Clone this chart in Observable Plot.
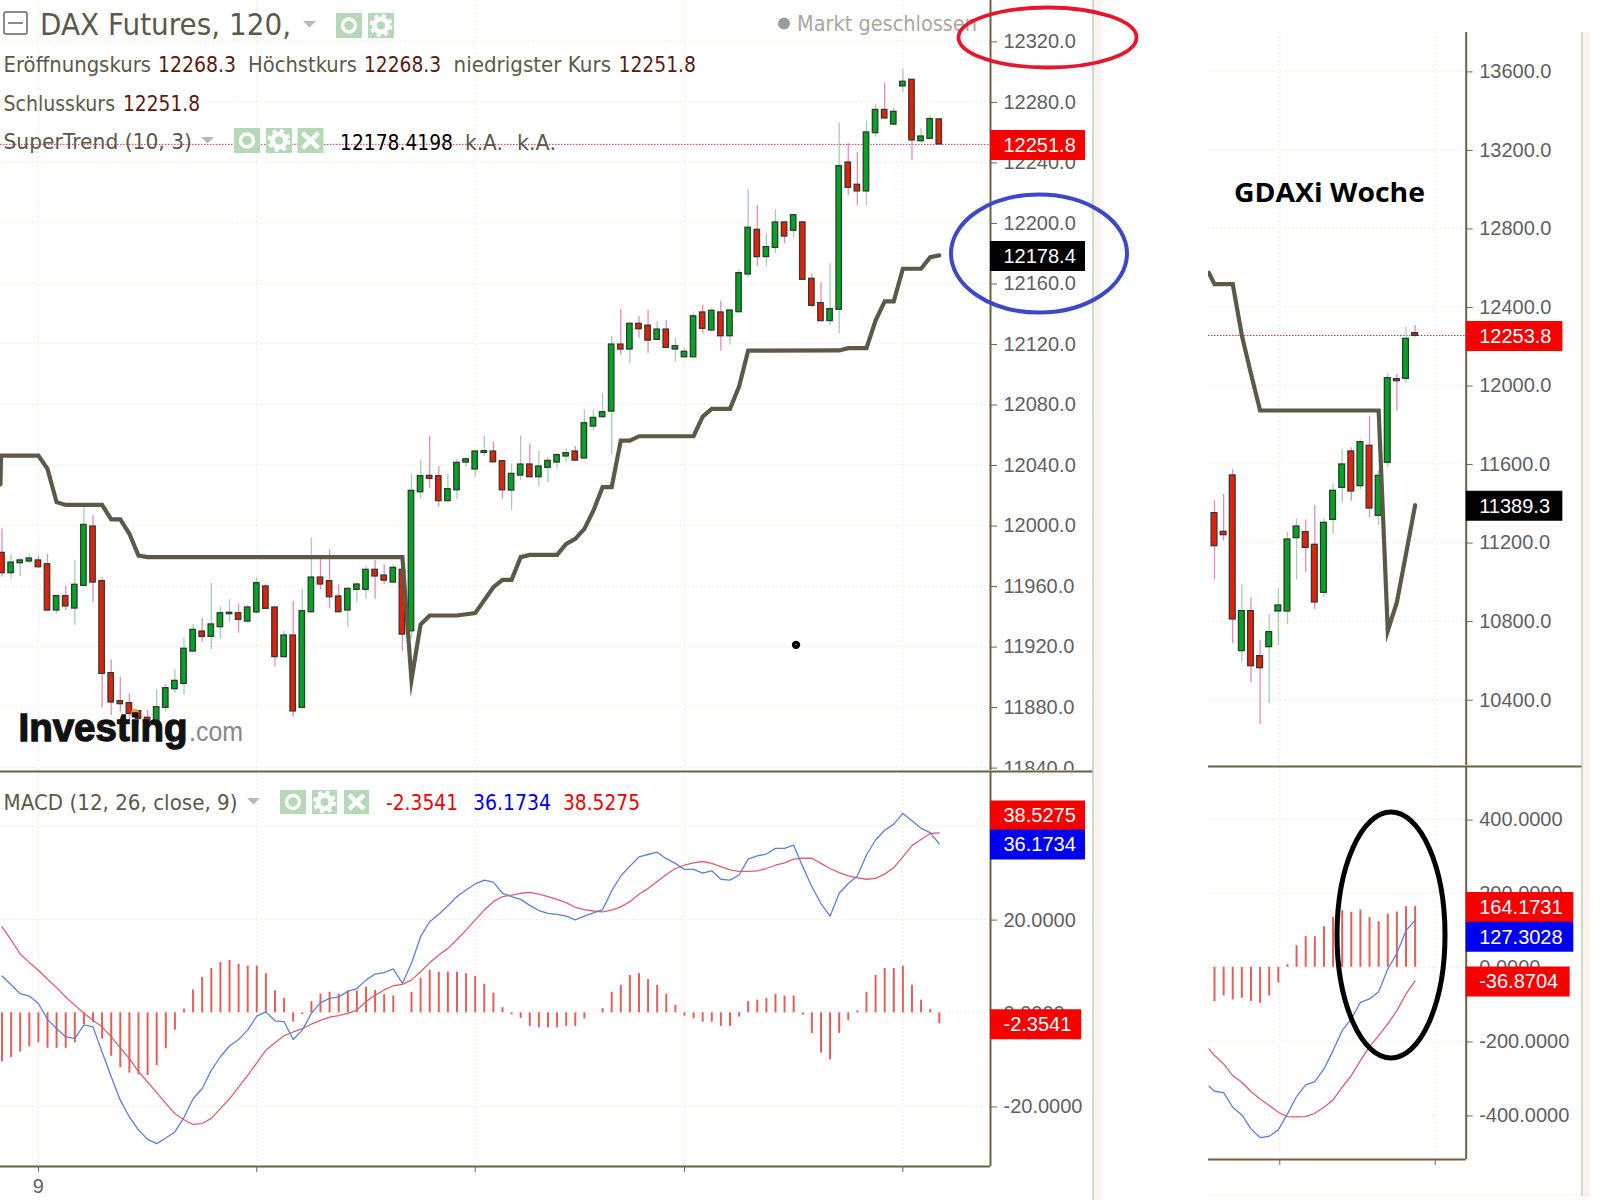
<!DOCTYPE html>
<html><head><meta charset="utf-8">
<script src="https://cdn.jsdelivr.net/npm/d3@7"></script>
<script src="https://cdn.jsdelivr.net/npm/@observablehq/plot@0.6"></script>
<style>
html,body{margin:0;padding:0;background:#fff}
#page{position:relative;width:1614px;height:1200px;overflow:hidden;background:#fff}
#page>svg,#page>div{position:absolute}
#page svg.plot,#page svg[class^="plot"]{max-width:none}
</style></head><body><div id="page"></div>
<script>
// ---- 120 minute DAX futures candles: open, high, low, close
const mainCandles = [
[11981.8,11997.7,11965.7,11968.4],[11968.4,11980.7,11964.6,11975.4],[11975,11977.9,11966.2,11976.8],[11976.1,11980.7,11974.6,11978.1],
[11976.8,11979.4,11971.7,11972.3],[11974.3,11980.7,11943.3,11943.7],[11943.7,11953.6,11941.5,11953.2],[11953.2,11959.6,11943.7,11946.4],
[11945,11976.8,11934,11960.7],[11960,12014.2,11959.6,12000.3],[11999.2,12006.3,11948.6,11962.2],[11963.1,11965.3,11879.4,11901.8],
[11902.3,11911.1,11874.3,11882.9],[11883.8,11899.7,11876.5,11881.8],[11882.5,11888.6,11871,11875.4],[11877.2,11877.6,11867.7,11872.1],
[11872.8,11877.6,11866.6,11868.8],[11868.8,11891.3,11866.6,11879.8],[11879.4,11894.8,11876.7,11892.4],[11891.7,11904.5,11889,11897.2],
[11895.2,11925.6,11887.8,11918.4],[11916.6,11934.5,11916,11930.9],[11929.8,11938.2,11922.8,11926.3],[11926.3,11961.8,11917.7,11934.5],
[11932.7,11945.9,11925.2,11941.9],[11941.3,11950.8,11936,11942.2],[11941.9,11948.1,11928.7,11937.5],[11936.4,11947,11935.3,11945.7],
[11942.4,11965.3,11941.9,11961.8],[11959.6,11961.3,11944.1,11944.8],[11945.7,11945.9,11906.3,11912.9],[11912.9,11930,11912.4,11927.2],
[11927.2,11949.9,11873.2,11877],[11879.4,11958,11878.1,11943.3],[11942.6,11991.7,11942.2,11965.5],[11965.5,11979.4,11957.4,11960.9],
[11963.1,11983.8,11945,11952.5],[11953,11960.9,11942,11942.6],[11943.7,11959.1,11932.7,11958],[11957.4,11961.8,11948.6,11960.9],
[11957.4,11972.8,11951.2,11970.6],[11970.6,11976.8,11951.2,11966.2],[11966.8,11974.1,11960.9,11963.5],[11962.2,11973.9,11961.8,11971.9],
[11970.6,11971,11916.6,11927.8],[11930,12033.6,11925,12022.8],[12021.9,12043.3,12017.3,12032.5],[12032.7,12058.9,12024.3,12030.7],
[12032.5,12038.9,12012,12016],[12016,12033.6,12015.3,12023.9],[12023.2,12043.3,12016.9,12041.3],[12041.5,12044.2,12038.4,12043.7],
[12036.9,12049.5,12031.8,12048.8],[12047.9,12058.9,12045.5,12049],[12048.8,12055,12041.3,12041.7],[12042.4,12042.8,12017.3,12023.2],
[12023,12040.6,12009.8,12034],[12032.9,12059.1,12029.6,12040.2],[12040.2,12053.8,12031.4,12031.8],[12031.8,12049,12025.7,12038.9],
[12038,12045,12028.3,12042.6],[12041.5,12047.7,12037.1,12046.4],[12045.5,12050.5,12041.7,12047.7],[12048.8,12052.3,12042.6,12042.8],
[12044.2,12076.3,12044,12067.5],[12065.3,12076.3,12062.7,12071],[12071.5,12087.3,12071,12074.8],[12075.2,12124.8,12046.8,12119.5],
[12119.5,12142.9,12112.5,12116.2],[12116.2,12134.3,12106.7,12133.2],[12133.2,12138,12123.9,12129.6],[12132,12142,12113.8,12122.1],
[12122.6,12134.5,12122.1,12129.4],[12129.4,12135.4,12116.9,12117.3],[12116.2,12123.9,12107.8,12118.4],[12111.1,12117.1,12110.2,12114.7],
[12111.1,12140.4,12110.7,12138.2],[12140.7,12145.5,12126.6,12129.9],[12128.8,12143.1,12128.3,12141.8],[12140.7,12148.1,12115.1,12125],
[12125,12142.5,12119.1,12142],[12140.9,12168.9,12140.7,12166.7],[12165.8,12221.8,12164,12196.7],[12195.3,12211.4,12171.3,12177.3],
[12177.3,12192.7,12170.7,12183.9],[12183.4,12208.6,12179.5,12200.2],[12200.2,12200.6,12186.1,12190.9],[12194.7,12205.5,12190,12205],
[12200.2,12200.6,12161.8,12162.3],[12162.9,12166.2,12143.8,12145.1],[12146.9,12160.5,12134.7,12135],[12135,12172.9,12132.1,12142.9],
[12142.5,12266,12126.6,12237.4],[12239.8,12252.2,12218,12223.1],[12225.1,12246.4,12211.4,12220.7],[12220.7,12267.2,12211.4,12259.7],
[12259.2,12278.2,12256.6,12274.6],[12274.6,12292.3,12268.5,12268.9],[12264.9,12276,12264.1,12273.3],[12290.1,12301.7,12286.3,12293.2],
[12294.5,12294.5,12241.2,12254.4],[12253.9,12262.1,12252.6,12257],[12255.5,12270.7,12254.8,12268.5],[12268.3,12268.3,12251.8,12251.8]];
// SuperTrend (10,3): candle number, level
const mainTrend = [[-0.17,12027],[-0.1,12046.1],[4,12046.1],[5,12037.3],[6,12015.3],[7,12013.5],[11,12013.5],[12,12003.9],[13,12003.9],[14,11994.4],[15,11980],[16,11979],[44,11979],[45,11898],[46,11934.5],[47,11940.4],[50,11940.4],[52,11942],[54,11959.1],[55,11964],[56,11964],[57,11979],[58,11980.5],[61,11980.5],[62,11987.8],[63,11991.1],[64,11997.7],[65,12009.8],[66,12025.2],[67,12025.2],[68,12056],[69,12056],[70,12058.9],[76,12058.9],[77,12071.9],[78,12077],[80,12077],[81,12091.7],[82,12115.5],[92,12115.6],[93,12117.1],[95,12117.1],[96,12135.4],[97,12148],[98,12148],[99,12169.6],[101,12169.6],[102,12177.3],[103,12178.4]];
// MACD panel, one value per candle
const mainHist = [-10.5,-9.6,-8.4,-7.3,-6.4,-7.6,-7.6,-7.6,-6.4,-2.5,-2.1,-5.6,-9.3,-11.7,-12.9,-13.3,-13.4,-11.3,-7.7,-3.7,0.8,4.9,7.6,9.5,10.8,11.2,10.4,10,10,8.4,4.7,3.1,-2,-0.4,2.4,4,4.4,4,4.7,4.7,5.5,4.8,3.9,3.6,0,4.4,7.4,9.1,8.7,8.7,8.7,8.4,7.8,6.1,4.2,1.1,-0.4,-1.2,-2.9,-3.2,-3.2,-3.2,-2.9,-2.9,-1.3,0,0.9,4.4,5.9,8,8.4,7.1,5.9,4,1.6,-0.7,-1.3,-2,-2,-2.9,-2.9,-0.9,2.4,2.7,3.1,3.9,3.6,3.6,-0.5,-4.4,-8.6,-10.1,-4.4,-1.7,0.4,4.4,8,9.5,9.5,10,5.9,2.7,0.7,-2.35];
const mainMacd = [7.9,6,4.1,3.6,2,-1.4,-3.4,-5.1,-5.5,-2.6,-3,-8.4,-13.7,-18.7,-22.3,-25.1,-27.1,-28,-26.8,-25.5,-22.4,-18.4,-16.2,-12.3,-9.4,-7.1,-5.7,-3.7,-0.7,0.2,-1.7,-1.9,-5.7,-3.7,-0.1,2.2,3.1,3.4,4.6,5.2,7,8.3,8.6,9.4,6.3,10.6,16.3,19.5,21.1,22.9,24.9,26.3,27.6,28.4,28,25.6,24.9,24.3,23,21.9,21.3,21.1,20.7,19.9,20.7,21.4,22.1,26.1,29.3,31.4,33.4,33.9,34.4,33,32,30.7,30.7,29.9,30.4,28.6,28.4,29.5,32.9,33.6,34,35.2,35.2,35.9,31.3,27,23.4,20.7,25.6,27.7,29.3,33.8,37,39.1,40.4,42.7,41.1,39.5,38.6,36.17];
const mainSignal = [18.4,15.6,12.6,10.8,9.1,7.2,5.4,3.4,1.6,-0.1,-1.6,-3,-5.1,-7.5,-9.8,-12.6,-14.8,-17.1,-19.4,-21.6,-22.9,-23.9,-23.7,-22.6,-20.5,-18.4,-15.9,-13.4,-10.7,-8,-6.4,-4.9,-4.1,-3.4,-2.4,-1.6,-0.9,-0.6,-0.1,0.6,2.4,3.8,4.9,5.8,6.1,7,8.8,10.7,12.4,13.8,15.7,17.7,19.9,22,23.8,24.9,25.2,25.6,25.8,25.4,24.9,24.3,23.6,22.6,22.1,21.8,21.6,22,22.7,23.8,25.4,26.6,28.1,29.6,30.9,31.6,32.1,32.4,32,31.3,30.6,30.3,30.3,30.4,30.9,31.6,32.1,32.9,33.1,33.1,32,30.9,30,29.3,28.9,28.6,28.8,29.7,31.1,33.4,35.8,37.1,38.4,38.53];
// weekly GDAXi candles: open, high, low, close
const weekCandles = [
[11348.9,11413.4,11009.4,11180.8],[11253.8,11444,11206.3,11236.8],[11540.8,11569.6,10683.4,10807.3],[10646,10983.9,10590,10849.7],
[10849.7,10917.6,10484.7,10569.6],[10620.5,10700.3,10272.5,10559.4],[10666.4,10832.8,10377.8,10742.8],[10848,10963.5,10674.9,10878.6],
[10848,11252.1,10781.8,11214.8],[11221.6,11320,11009.4,11281],[11252.1,11314.9,11048.4,11172.3],[11187.6,11388,10856.5,10893.9],
[10943.1,11320,10921,11299.7],[11314.9,11498.3,11240.2,11462.6],[11477.9,11673.2,11401.5,11596.8],[11663,11681.6,11410,11459.2],
[11486.4,11722.4,11467.7,11710.5],[11691.9,11843,11325.1,11372.6],[11335.3,11566.2,11286,11539.1],[11605.3,12058.6,11583.2,12036.5],
[12031.4,12055.2,11868.4,12021.2],[12033.1,12296.3,12011.1,12236.8],[12265.7,12304.8,12245.3,12252.1]];
const weekTrend = [[-0.62,12573],[0,12515.3],[2,12515.3],[3,12253.8],[4,12058.6],[5,11871.8],[18,11871.8],[19,10750],[20,10895.6],[21,11141.8],[22,11389.3]];
const weekHist = [-92.8,-77.5,-88.3,-83.8,-91.9,-97.3,-77.5,-42.3,7.2,58.6,82.9,82.9,109.9,135.1,153.2,148.6,155,134.2,123.4,144.1,149.5,164,164.17];
const weekMacd = [[-0.6,-321.6],[0,-335.1],[1,-338.7],[2,-378.4],[3,-399.1],[4,-436.9],[5,-460.4],[6,-456.8],[7,-439.6],[8,-396.4],[9,-349.5],[10,-318],[11,-309],[12,-274.8],[13,-225.2],[14,-171.2],[15,-139.6],[16,-94.6],[17,-85.6],[18,-65.8],[19,-4.5],[20,37.8],[21,99.1],[22,127.3]];
const weekSignal = [[-0.6,-220.7],[0,-238.7],[1,-261.3],[2,-292.8],[3,-310.8],[4,-336],[5,-355.9],[6,-373.9],[7,-391.9],[8,-403.6],[9,-404.5],[10,-403.6],[11,-394.6],[12,-378.4],[13,-358.6],[14,-324.3],[15,-292.8],[16,-252.3],[17,-214.4],[18,-184.7],[19,-153.2],[20,-117.1],[21,-72.1],[22,-36.87]];
// tick values
const mainPriceTicks = [12320,12280,12240,12200,12160,12120,12080,12040,12000,11960,11920,11880,11840];
const mainMacdTicks = [40,20,0,-20];
const weekPriceTicks = [13600,13200,12800,12400,12000,11600,11200,10800,10400];
const weekMacdTicks = [400,200,0,-200,-400];
const mainTimeTicks = [4,28,52,75,99];
const weekTimeTicks = [7.16,24.2];

const AXIS="#6b6240", GRID="#f8e4cc", TICK="#666", SANS="Liberation Sans";
const UP="#04a324", DOWN="#e2200c", EDGE="#2f3d30";
const page=document.getElementById("page");
const toRows=a=>a.map(([o,h,l,c],i)=>({i,o,h,l,c}));
const pairs=a=>a.map(([i,v])=>({i,v}));

function candles(rows,wide=0.3){return [
  Plot.ruleX(rows,{x:"i",y1:"l",y2:"h",stroke:d=>d.c<d.o?"#e58abb":"#a5cfb0",strokeWidth:1.3}),
  Plot.rect(rows,{x1:d=>d.i-wide,x2:d=>d.i+wide,y1:"o",y2:"c",fill:d=>d.c<d.o?DOWN:UP,stroke:EDGE,strokeWidth:1.3})
];}
function tag(xEnd,xRight,value,color,label,dy=0,dx=13){return [
  Plot.ruleY([value],{x1:xEnd,x2:xRight,stroke:color,strokeWidth:30,dy:dy+0.5}),
  Plot.text([label],{x:xEnd,y:value,text:d=>d,dx,dy:dy+1,fill:"#fff",textAnchor:"start",fontSize:20,fontFamily:SANS})
];}
function panel({x,y,w,h,mt=0,mb=0,mr,xDomain,yDomain,marks}){
  const svg=Plot.plot({width:w,height:h,marginLeft:0,marginRight:mr,marginTop:mt,marginBottom:mb,
    x:{type:"linear",domain:xDomain,axis:null},y:{type:"linear",domain:yDomain,axis:null},
    style:{fontFamily:SANS,fontSize:"20px",maxWidth:"none",background:"#fff"},marks});
  svg.style.position="absolute";svg.style.left=x+"px";svg.style.top=y+"px";svg.style.width=w+"px";svg.style.height=h+"px";
  page.appendChild(svg);
}
const grid=(xt,yt,xEnd,x0)=>[
  Plot.ruleY(yt,{x1:x0,x2:xEnd,stroke:GRID,strokeDasharray:"1.5,2.5"}),
  Plot.ruleX(xt,{stroke:GRID,strokeDasharray:"1.5,2.5"})
];
const yAxis=(ticks,digits)=>Plot.axisY({anchor:"right",ticks,tickFormat:d=>d.toFixed(digits),tickSize:6,tickPadding:7,stroke:TICK,fill:"#5f5f5f",label:null,fontSize:20,fontFamily:SANS,dy:0.7});

// ---- left price panel
{const d0=-0.165,d1=108.63,tagEnd=119.07,yd=[11837.3,12346.9];
panel({x:0,y:0,w:1093,h:771,mr:103,xDomain:[d0,d1],yDomain:yd,marks:[
  ...grid(mainTimeTicks,mainPriceTicks,d1,d0),
  Plot.ruleY([12251.8],{x1:d0,x2:d1,stroke:"#d0305a",strokeDasharray:"1.5,1.5"}),
  ...candles(toRows(mainCandles)),
  Plot.line(pairs(mainTrend),{x:"i",y:"v",stroke:"#5c5a46",strokeWidth:4.2,strokeLinejoin:"miter",strokeMiterlimit:30}),
  Plot.dot([[87.26,11921]],{x:d=>d[0],y:d=>d[1],r:2.4,stroke:"#000",strokeWidth:3.6,fill:"#fff"}),
  Plot.ruleX([d1],{stroke:AXIS,strokeWidth:2}),
  yAxis(mainPriceTicks,1),
  ...tag(d1,tagEnd,12251.8,"#f60000","12251.8"),
  ...tag(d1,tagEnd,12178.4,"#000","12178.4")
]});}
// ---- left MACD panel
{const d0=-0.165,d1=108.63,tagEnd=119.07,tagEnd2=118.65,yd=[-32.9,51.67],full=120.0;
panel({x:0,y:770,w:1093,h:430,mt:1,mb:34,mr:103,xDomain:[d0,d1],yDomain:yd,marks:[
  ...grid(mainTimeTicks,mainMacdTicks,d1,d0),
  Plot.ruleX(mainHist.map((v,i)=>({i,v})),{x:"i",y1:0,y2:"v",stroke:"#e2605a",strokeWidth:2}),
  Plot.line(mainSignal.map((v,i)=>({i,v})),{x:"i",y:"v",stroke:"#dc5f6a",strokeWidth:1.3}),
  Plot.line(mainMacd.map((v,i)=>({i,v})),{x:"i",y:"v",stroke:"#5c80d6",strokeWidth:1.3}),
  Plot.ruleY([yd[1]],{x1:d0,x2:full,stroke:AXIS,strokeWidth:2}),
  Plot.ruleY([yd[0]],{x1:d0,x2:d1,stroke:AXIS,strokeWidth:2}),
  Plot.ruleX([d1],{stroke:AXIS,strokeWidth:2}),
  yAxis(mainMacdTicks,4),
  Plot.axisX({anchor:"bottom",ticks:mainTimeTicks,tickFormat:d=>d===4?"9":"",tickSize:6,tickPadding:6,stroke:TICK,fill:"#5f5f5f",label:null,fontSize:20,fontFamily:SANS}),
  ...tag(d1,tagEnd2,-2.3541,"#f60000","-2.3541"),
  ...tag(d1,tagEnd,38.5275,"#f60000","38.5275",-18),
  ...tag(d1,tagEnd,36.1734,"#0000f0","36.1734")
]});}
// ---- right price panel
{const d0=-0.658,d1=27.6,tagEnd=38.2,yd=[10058.5,13797];
panel({x:1208,y:32,w:374,h:734,mr:116.3,xDomain:[d0,d1],yDomain:yd,marks:[
  ...grid(weekTimeTicks,weekPriceTicks,d1,d0),
  Plot.ruleY([12253.8],{x1:d0,x2:d1,stroke:"#d0305a",strokeDasharray:"1.5,1.5"}),
  ...candles(toRows(weekCandles),0.32),
  Plot.line(pairs(weekTrend),{x:"i",y:"v",stroke:"#5c5a46",strokeWidth:4.2,strokeLinejoin:"miter",strokeMiterlimit:30}),
  Plot.ruleX([d1],{stroke:AXIS,strokeWidth:2}),
  yAxis(weekPriceTicks,1),
  ...tag(d1,tagEnd,12253.8,"#f60000","12253.8"),
  ...tag(d1,tagEnd,11389.3,"#000","11389.3")
]});}
// ---- right MACD panel
{const d0=-0.658,d1=27.6,tagA=39.4,tagB=39.0,yd=[-519.7,543],full=40.4;
panel({x:1208,y:765,w:374,h:435,mt:1,mb:41,mr:116.3,xDomain:[d0,d1],yDomain:yd,marks:[
  ...grid(weekTimeTicks,weekMacdTicks,d1,d0),
  Plot.ruleX(weekHist.map((v,i)=>({i,v})),{x:"i",y1:0,y2:"v",stroke:"#e2605a",strokeWidth:2}),
  Plot.line(pairs(weekSignal),{x:"i",y:"v",stroke:"#dc5f6a",strokeWidth:1.3}),
  Plot.line(pairs(weekMacd),{x:"i",y:"v",stroke:"#5c80d6",strokeWidth:1.3}),
  Plot.ruleY([yd[1]],{x1:d0,x2:full,stroke:AXIS,strokeWidth:2}),
  Plot.ruleY([yd[0]],{x1:d0,x2:d1,stroke:AXIS,strokeWidth:2}),
  Plot.ruleX([d1],{stroke:AXIS,strokeWidth:2}),
  yAxis(weekMacdTicks,4),
  Plot.axisX({anchor:"bottom",ticks:weekTimeTicks,tickFormat:()=>"",tickSize:6,stroke:TICK,label:null}),
  ...tag(d1,tagA,164.1731,"#f60000","164.1731"),
  ...tag(d1,tagB,-36.8704,"#f60000","-36.8704"),
  ...tag(d1,tagA,127.3028,"#0000f0","127.3028",16)
]});}

// ---- header texts, pane edges and hand-drawn rings on an overlay
const NS="http://www.w3.org/2000/svg";
const ov=document.createElementNS(NS,"svg");
ov.setAttribute("width",1614);ov.setAttribute("height",1200);ov.style.left="0";ov.style.top="0";
page.appendChild(ov);
function el(n,a,t){const e=document.createElementNS(NS,n);for(const k in a)e.setAttribute(k,a[k]);if(t)e.textContent=t;ov.appendChild(e);return e;}
const LABEL="#5b5a46",VAL="#5c1a0c",TAH="DejaVu Sans";
function txt(t,x1,x2,y,size,fill,extra={}){el("text",{x:x1,y,"font-size":size,fill,"font-family":TAH,textLength:x2-x1,lengthAdjust:"spacingAndGlyphs",...extra},t);}
function tri(x,y){el("path",{d:`M${x} ${y}h13l-6.5 6.5z`,fill:"#b9b9b9"});}
function icon(x,y,kind,w=26,h=25){
  el("rect",{x,y,width:w,height:h,fill:"#b5d8b7"});
  const cx=x+w/2,cy=y+h/2;
  if(kind==="eye"){el("circle",{cx,cy,r:6.5,fill:"none",stroke:"#fff","stroke-width":3.5});}
  if(kind==="gear"){el("circle",{cx,cy,r:6.5,fill:"none",stroke:"#fff","stroke-width":5});el("circle",{cx,cy,r:10,fill:"none",stroke:"#fff","stroke-width":3,"stroke-dasharray":"4 4"});}
  if(kind==="x"){el("path",{d:`M${x+5} ${y+5}L${x+w-5} ${y+h-5}M${x+w-5} ${y+5}L${x+5} ${y+h-5}`,stroke:"#fff","stroke-width":4.5});}
}
// pane edges
el("rect",{x:1094,y:0,width:7,height:1200,fill:"#fdf3f2"});
el("rect",{x:1583,y:32,width:7,height:1165,fill:"#fdf3f2"});
el("line",{x1:1093,y1:0,x2:1093,y2:1200,stroke:"#bcd3b6","stroke-width":1.5});
el("line",{x1:1582,y1:32,x2:1582,y2:1196,stroke:"#bcd3b6","stroke-width":1.5});
el("line",{x1:1208,y1:1195,x2:1590,y2:1195,stroke:GRID,"stroke-dasharray":"1.5,2.5"});
// header rows
el("rect",{x:4,y:12,width:23,height:22,rx:2,fill:"none",stroke:"#666","stroke-width":1.5});
el("line",{x1:8,y1:23,x2:23,y2:23,stroke:"#666","stroke-width":1.5});
txt("DAX Futures, 120,",40,291,35,30,LABEL);tri(303,21);icon(336,13,"eye");icon(368,13,"gear");
txt("Eröffnungskurs",3.5,151,72,22,LABEL);txt("12268.3",158,236,72,22,VAL);
txt("Höchstkurs",248,357,72,22,LABEL);txt("12268.3",364,441,72,22,VAL);
txt("niedrigster Kurs",453.6,611,72,22,LABEL);txt("12251.8",618.5,696,72,22,VAL);
txt("Schlusskurs",3.5,115,111,22,LABEL);txt("12251.8",123,200,111,22,VAL);
txt("SuperTrend (10, 3)",3.5,192,149,22,LABEL);tri(201,137);icon(234,128,"eye");icon(266,128,"gear");icon(297.5,128,"x");
txt("12178.4198",340,453,150,22,"#000");txt("k.A.",465,503,150,22,LABEL);txt("k.A.",517,556,150,22,LABEL);
el("circle",{cx:784,cy:23.5,r:6,fill:"#9c9c9c"});txt("Markt geschlossen",797,977,31,22,"#a8a8a0");
txt("MACD (12, 26, close, 9)",3.5,237.5,810,22,LABEL);tri(247,798);icon(280,790,"eye",26,24);icon(312,790,"gear",25,24);icon(344,790,"x",25,24);
txt("-2.3541",386,458,810,22,"#f00000");txt("36.1734",473,551,810,22,"#0000e0");txt("38.5275",563,640,810,22,"#f00000");
// logo
el("circle",{cx:135,cy:713,r:4,fill:"#f0a020"});
el("text",{x:18.5,y:741,"font-size":39,"font-weight":700,fill:"#111",stroke:"#111","stroke-width":1.3,"font-family":SANS,textLength:169,lengthAdjust:"spacingAndGlyphs"},"Investing");
el("text",{x:189,y:741,"font-size":28,fill:"#888","font-family":SANS,textLength:54,lengthAdjust:"spacingAndGlyphs"},".com");
el("text",{x:1234,y:202,"font-size":27,"font-weight":700,fill:"#000","font-family":"Open Sans",textLength:191,lengthAdjust:"spacingAndGlyphs"},"GDAXi Woche");
// rings
el("ellipse",{cx:1047.5,cy:37.5,rx:89,ry:30,fill:"none",stroke:"#e8162c","stroke-width":3.8});
el("ellipse",{cx:1039,cy:253.5,rx:88,ry:59,fill:"none",stroke:"#3c48c8","stroke-width":4});
el("ellipse",{cx:1391,cy:935,rx:54,ry:123,fill:"none",stroke:"#000","stroke-width":5});
</script></body></html>
